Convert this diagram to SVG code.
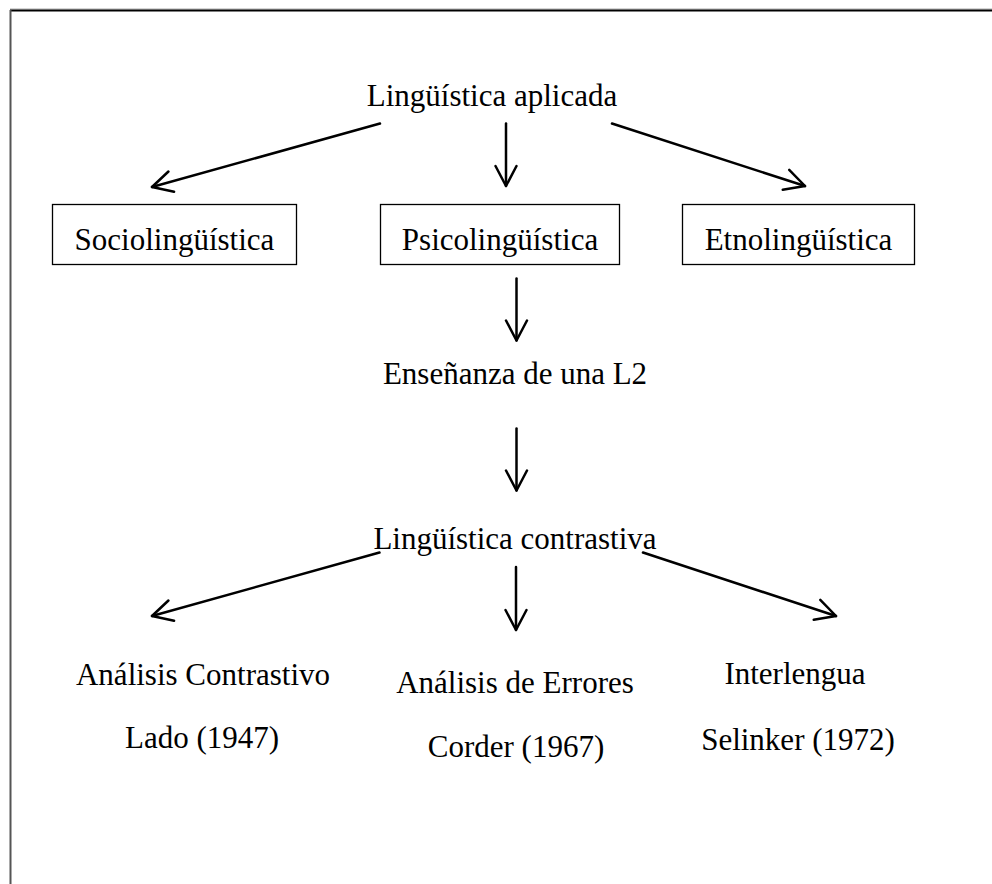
<svg xmlns="http://www.w3.org/2000/svg" width="992" height="884" viewBox="0 0 992 884">
  <style>
    .t { font-family: "Liberation Serif", "Times New Roman", serif; font-size: 31px; fill: #000; text-anchor: middle; }
    .box { fill: #fff; stroke: #000; stroke-width: 1.3; }
    .arr { fill: none; stroke: #000; stroke-width: 2.5; stroke-linecap: round; stroke-linejoin: round; }
  </style>
  <defs>
    <marker id="head" viewBox="-24 -13 28 26" markerWidth="28" markerHeight="26" refX="0" refY="0" orient="auto" markerUnits="userSpaceOnUse">
      <path d="M-20,-10.5 L0,0 L-20,10.5" fill="none" stroke="#000" stroke-width="2.5" stroke-linecap="round" stroke-linejoin="round"/>
    </marker>
  </defs>

  <rect width="992" height="884" fill="#fff"/>

  <!-- page frame -->
  <line x1="10" y1="9" x2="992" y2="9" stroke="#aaa" stroke-width="1"/>
  <line x1="10" y1="10.5" x2="992" y2="10.5" stroke="#000" stroke-width="2"/>
  <line x1="10.5" y1="10" x2="10.5" y2="884" stroke="#555" stroke-width="2"/>

  <g id="connectors">
    <line class="arr" x1="380" y1="123.5" x2="152" y2="187" marker-end="url(#head)"/>
    <line class="arr" x1="506" y1="123.5" x2="506" y2="186" marker-end="url(#head)"/>
    <line class="arr" x1="612" y1="123.5" x2="805" y2="186" marker-end="url(#head)"/>
    <line class="arr" x1="516.5" y1="278.5" x2="516.5" y2="340.5" marker-end="url(#head)"/>
    <line class="arr" x1="516.5" y1="428.5" x2="516.5" y2="490.5" marker-end="url(#head)"/>
    <line class="arr" x1="379.5" y1="552.5" x2="152" y2="616" marker-end="url(#head)"/>
    <line class="arr" x1="516" y1="567" x2="516" y2="630" marker-end="url(#head)"/>
    <line class="arr" x1="643" y1="552.5" x2="836" y2="616" marker-end="url(#head)"/>
  </g>

  <g id="linguistica-aplicada">
    <text class="t" x="492" y="106">Lingüística aplicada</text>
  </g>

  <g id="sociolinguistica">
    <rect class="box" x="52.5" y="204.5" width="244" height="60"/>
    <text class="t" x="174.5" y="250">Sociolingüística</text>
  </g>

  <g id="psicolinguistica">
    <rect class="box" x="380.5" y="204.5" width="239" height="60"/>
    <text class="t" x="500" y="250">Psicolingüística</text>
  </g>

  <g id="etnolinguistica">
    <rect class="box" x="682.5" y="204.5" width="232" height="60"/>
    <text class="t" x="798.5" y="250">Etnolingüística</text>
  </g>

  <g id="ensenanza-l2">
    <text class="t" x="515" y="384">Enseñanza de una L2</text>
  </g>

  <g id="linguistica-contrastiva">
    <text class="t" x="515" y="549">Lingüística contrastiva</text>
  </g>

  <g id="analisis-contrastivo">
    <text class="t" x="203" y="685">Análisis Contrastivo</text>
    <text class="t" x="202" y="748">Lado (1947)</text>
  </g>

  <g id="analisis-errores">
    <text class="t" x="515" y="693">Análisis de Errores</text>
    <text class="t" x="516" y="757">Corder (1967)</text>
  </g>

  <g id="interlengua">
    <text class="t" x="795" y="684">Interlengua</text>
    <text class="t" x="798" y="750">Selinker (1972)</text>
  </g>
</svg>
